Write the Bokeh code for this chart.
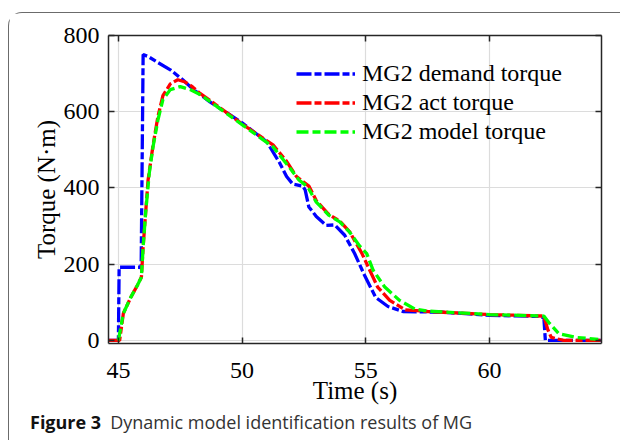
from bokeh.plotting import figure
from bokeh.models import Range1d, LinearAxis, FixedTicker, Legend, LegendItem, Div
from bokeh.layouts import column
from bokeh.embed import file_html
from bokeh.resources import INLINE

# ---- data ----
t_demand = [44.6, 45.0, 45.03, 45.85, 45.92, 46.0, 46.2, 46.6, 47.1, 47.6, 48.0, 48.7, 50.0,
            51.0, 51.5, 51.8, 52.05, 52.45, 52.55, 52.7, 52.85, 53.0, 53.4, 53.75, 54.15,
            54.55, 54.95, 55.4, 55.9, 56.5, 58.1, 60.0, 62.0, 62.2, 62.26, 64.5]
torque_demand = [0, 0, 192, 192, 190, 750, 745, 729, 710, 684, 660, 626, 571,
                 521, 468, 430, 410, 405, 395, 350, 338, 325, 302, 303, 276,
                 228, 171, 113, 89, 76, 74, 66, 63, 60, 0, 0]

t_act = [44.6, 45.05, 45.2, 45.5, 45.77, 45.93, 46.0, 46.1, 46.2, 46.4, 46.6, 46.8, 47.1,
         47.4, 47.7, 48.0, 48.3, 48.7, 50.0, 51.25, 51.8, 52.2, 52.5, 52.7, 53.0, 53.5,
         53.95, 54.35, 54.84, 55.48, 55.97, 56.6, 57.5, 60.0, 62.2, 62.35, 62.5, 63.0, 64.5]
torque_act = [0, 0, 71, 113, 145, 166, 245, 334, 421, 512, 588, 642, 673,
              684, 678, 665, 648, 630, 568, 513, 470, 430, 415, 405, 367, 331,
              313, 285, 229, 140, 105, 80, 76, 68, 64, 30, 8, 0, 0]

t_model = [45.0, 45.2, 45.5, 45.77, 45.93, 46.0, 46.1, 46.25, 46.4, 46.6, 46.8, 47.1, 47.5,
           47.9, 48.3, 48.7, 50.0, 51.25, 51.9, 52.3, 52.65, 53.0, 53.5, 53.95, 54.35,
           54.75, 55.04, 55.3, 55.77, 56.37, 57.0, 57.5, 60.0, 62.2, 62.4, 62.8, 63.5, 64.4]
torque_model = [0, 71, 113, 145, 166, 245, 334, 440, 508, 579, 632, 658, 666,
                658, 645, 627, 566, 508, 455, 421, 403, 363, 329, 311, 284,
                248, 228, 184, 140, 105, 82, 77, 68, 64, 47, 18, 8, 3]

x_ticks = [45, 50, 55, 60]
y_ticks = [0, 200, 400, 600, 800]
series_names = ["MG2 demand torque", "MG2 act torque", "MG2 model torque"]
caption_bold = "Figure 3"
caption_text = "Dynamic model identification results of MG"

SERIF = "Liberation Serif"
AX = "#262626"

p = figure(width=611, height=405, output_backend="svg", toolbar_location=None,
           x_range=Range1d(44.6, 64.53), y_range=Range1d(-8, 800),
           min_border_left=99, min_border_right=19, min_border_top=22, min_border_bottom=75,
           x_axis_label="Time (s)", y_axis_label="Torque (N\u00b7m)")
p.outline_line_color = None
p.background_fill_color = "white"
p.border_fill_color = "white"

for ax, ticks in ((p.xaxis[0], x_ticks), (p.yaxis[0], y_ticks)):
    ax.ticker = FixedTicker(ticks=ticks)
    ax.major_tick_in = 6
    ax.major_tick_out = 0
    ax.minor_tick_line_color = None
    ax.axis_line_color = AX
    ax.axis_line_width = 1.5
    ax.major_tick_line_color = AX
    ax.major_tick_line_width = 1.5
    ax.major_label_text_font = SERIF
    ax.major_label_text_font_size = "24px"
    ax.major_label_text_color = "black"
    ax.axis_label_text_font = SERIF
    ax.axis_label_text_font_size = "25px"
    ax.axis_label_text_font_style = "normal"
    ax.axis_label_text_color = "black"

p.yaxis[0].major_label_standoff = 9
p.yaxis[0].axis_label_standoff = 1
p.xaxis[0].major_label_standoff = 19
p.xaxis[0].axis_label_standoff = -4

for loc, ticks in (("right", y_ticks), ("above", x_ticks)):
    ax = LinearAxis(ticker=FixedTicker(ticks=ticks), major_tick_in=6, major_tick_out=0,
                    minor_tick_line_color=None, axis_line_color=AX, axis_line_width=1.5,
                    major_tick_line_color=AX, major_tick_line_width=1.5,
                    major_label_overrides={v: "" for v in ticks},
                    major_label_text_font_size="1px", major_label_standoff=0)
    p.add_layout(ax, loc)

p.xgrid.ticker = FixedTicker(ticks=x_ticks)
p.ygrid.ticker = FixedTicker(ticks=y_ticks)
for g in (p.xgrid[0], p.ygrid[0]):
    g.grid_line_color = "#dcdcdc"
    g.grid_line_width = 1.2

r1 = p.line(t_demand, torque_demand, line_color="#0000ff", line_width=3.3, line_dash="15 3 7 3")
r2 = p.line(t_act, torque_act, line_color="#ff0000", line_width=3.3, line_dash="15 3 7 3")
r3 = p.line(t_model, torque_model, line_color="#00ff00", line_width=3.3, line_dash="12 4 8 4")

legend = Legend(items=[LegendItem(label=n, renderers=[r]) for n, r in zip(series_names, [r1, r2, r3])],
                location=(188, 197), border_line_color=None, background_fill_alpha=0,
                glyph_width=59, glyph_height=29, label_height=29, label_standoff=7,
                padding=0, margin=0, spacing=0,
                label_text_font=SERIF, label_text_font_size="24px", label_text_color="black")
p.add_layout(legend)

caption = Div(
    text=f'<span style="font-weight:700;color:#111;margin-right:9px">{caption_bold}</span>{caption_text}',
    width=600, height=27,
    styles={"font-family": "'Open Sans', sans-serif", "font-size": "18px", "color": "#333333",
            "padding-left": "16px", "white-space": "nowrap", "margin-top": "-6px",
            "line-height": "1.2"})

layout = column(p, caption, spacing=0,
                styles={"border-top": "1px solid #6b6b6b", "border-left": "1px solid #6b6b6b",
                        "border-top-left-radius": "14px", "position": "relative",
                        "left": "8px", "top": "12px", "background": "white"})

open("out.html", "w").write(file_html(layout, INLINE))
